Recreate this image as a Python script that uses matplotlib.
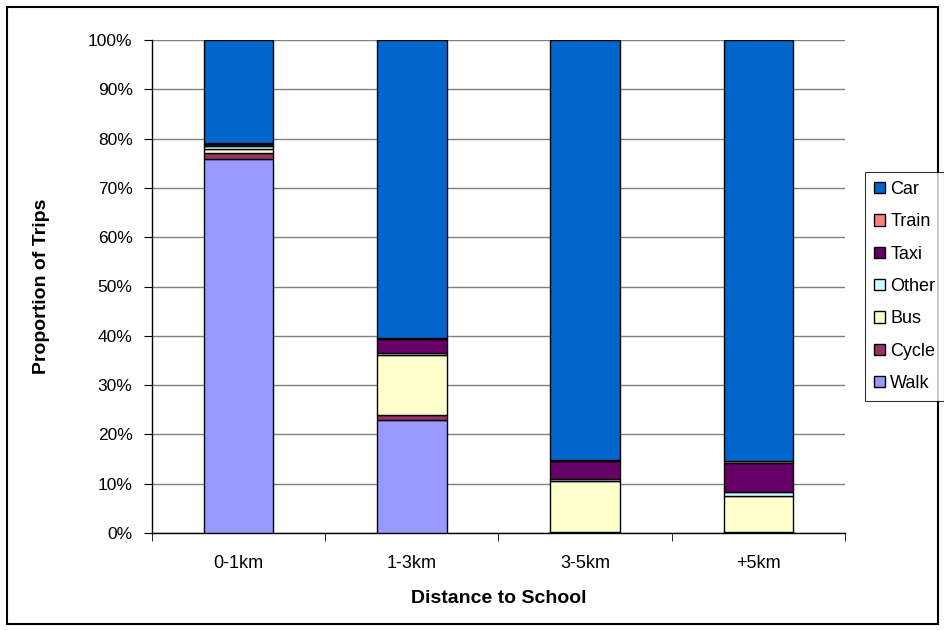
import matplotlib
matplotlib.use("Agg")
import matplotlib.pyplot as plt
from matplotlib.patches import Rectangle, Patch
import numpy as np

plt.rcParams['font.family'] = ['Liberation Sans', 'DejaVu Sans']

categories = ["0-1km", "1-3km", "3-5km", "+5km"]
modes = ["Walk", "Cycle", "Bus", "Other", "Taxi", "Train", "Car"]

walk = [75.9, 23.0, 0.1, 0.1]
cycle = [1.1, 1.0, 0.1, 0.1]
bus = [0.9, 12.1, 10.4, 7.4]
other = [0.6, 0.4, 0.3, 0.8]
taxi = [0.5, 2.9, 3.7, 5.9]
train = [0.1, 0.1, 0.2, 0.4]
car = [20.9, 60.5, 85.2, 85.3]

series = [walk, cycle, bus, other, taxi, train, car]
colors = ["#9999FF", "#993366", "#FFFFCC", "#CCFFFF", "#660066", "#FF8080", "#0066CC"]

fig = plt.figure(figsize=(9.45, 6.3), dpi=100)
ax = fig.add_axes([152 / 945, 1 - 533 / 630, (845 - 152) / 945, (533 - 40) / 630])

x = np.arange(len(categories))
bottom = np.zeros(len(categories))
for vals, col, name in zip(series, colors, modes):
    ax.bar(x, vals, width=0.4, bottom=bottom, color=col, edgecolor="black",
           linewidth=1.0, label=name, zorder=3)
    bottom += np.array(vals)

ax.set_xlim(-0.5, len(categories) - 0.5)
ax.set_ylim(0, 100)
ax.set_yticks(np.arange(0, 101, 10))
ax.set_yticklabels([f"{v}%" for v in range(0, 101, 10)], fontsize=12.5)
ax.yaxis.grid(True, color="#808080", linewidth=1.0, zorder=0)

ax.set_xticks(x)
ax.set_xticklabels(categories, fontsize=13)
ax.tick_params(axis="x", length=0, pad=16)
ax.set_xticks(np.arange(-0.5, len(categories), 1.0), minor=True)
ax.tick_params(axis="x", which="minor", length=6, direction="out", color="black")
ax.tick_params(axis="y", length=6, direction="out", color="black", pad=8)

for side in ["top", "right"]:
    ax.spines[side].set_visible(False)
for side in ["left", "bottom"]:
    ax.spines[side].set_color("black")
    ax.spines[side].set_linewidth(1.0)

ax.set_ylabel("Proportion of Trips", fontsize=14, fontweight="bold")
ax.yaxis.set_label_coords(-0.147, 0.5)
ax.set_xlabel("Distance to School", fontsize=14, fontweight="bold")
ax.xaxis.set_label_coords(0.5, -0.116)

handles = [Patch(facecolor=c, edgecolor="black", linewidth=1.0) for c in colors]
leg = fig.legend(handles[::-1], modes[::-1], loc="upper left",
                 bbox_to_anchor=(865 / 945, 1 - 172 / 630), fontsize=13,
                 frameon=True, fancybox=False, edgecolor="black",
                 handlelength=0.6, handleheight=0.6, handletextpad=0.3,
                 labelspacing=0.85, borderpad=0.5, borderaxespad=0)
leg.get_frame().set_linewidth(0.8)

fig.patches.append(Rectangle((7 / 945, 6 / 630), 931 / 945, 617 / 630,
                             transform=fig.transFigure, fill=False,
                             edgecolor="black", linewidth=1.5))

fig.savefig("out.png", dpi=100)
